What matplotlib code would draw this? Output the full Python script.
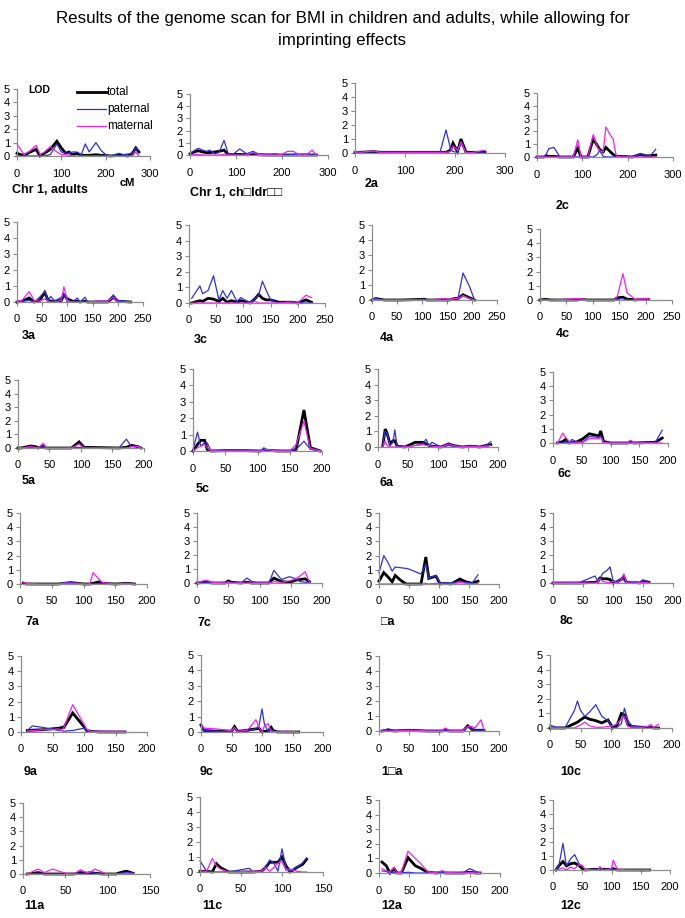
import matplotlib
matplotlib.use('Agg')
import matplotlib.pyplot as plt

plt.rcParams['font.family'] = ['Liberation Sans', 'DejaVu Sans']

# ---- data: cM positions and LOD scores (total / paternal / maternal) ----
chr1a_cm = [0, 8, 16, 30, 43, 52, 62, 75, 90, 100, 110, 117, 125, 135, 145, 154, 163, 178, 190, 200, 210, 230, 240, 250, 260, 268, 275]
chr1a_tot = [0.2, 0.1, 0.05, 0.3, 0.5, 0.0, 0.2, 0.5, 1.1, 0.6, 0.2, 0.3, 0.1, 0.2, 0.05, 0.05, 0.05, 0.1, 0.05, 0.05, 0.0, 0.05, 0.05, 0.0, 0.2, 0.6, 0.3]
chr1a_pat = [0, 0, 0, 0, 0, 0, 0, 0.1, 0.9, 0.3, 0.2, 0.2, 0.3, 0.3, 0.1, 0.9, 0.3, 1.0, 0.4, 0.1, 0.0, 0.2, 0.1, 0.15, 0.2, 0.6, 0.4]
chr1a_mat = [0.9, 0.5, 0.1, 0.4, 0.8, 0.1, 0.3, 0.7, 0.3, 0.1, 0.1, 0.05, 0.05, 0, 0, 0, 0, 0, 0, 0, 0, 0, 0, 0, 0, 0.3, 0.0]

chr1c_cm = [0, 9, 18, 27, 36, 43, 54, 63, 74, 83, 95, 108, 123, 137, 148, 170, 185, 200, 212, 225, 235, 245, 255, 265, 275]
chr1c_tot = [0.1, 0.25, 0.35, 0.25, 0.2, 0.2, 0.25, 0.3, 0.4, 0.05, 0.05, 0.05, 0.02, 0.05, 0.02, 0, 0, 0, 0, 0, 0, 0, 0, 0, 0]
chr1c_pat = [0.1, 0.35, 0.55, 0.4, 0.3, 0.4, 0.1, 0.2, 1.2, 0.1, 0.1, 0.5, 0.1, 0.3, 0.1, 0.05, 0.1, 0.0, 0.0, 0.05, 0.05, 0.0, 0.1, 0.0, 0.0]
chr1c_mat = [0, 0.05, 0.05, 0, 0, 0, 0, 0, 0.05, 0, 0, 0, 0, 0.2, 0.05, 0, 0, 0.05, 0.3, 0.3, 0.05, 0.1, 0.05, 0.4, 0.0]

chr2a_cm = [0, 10, 38, 50, 100, 150, 170, 182, 191, 196, 205, 212, 222, 235, 245, 260]
chr2a_tot = [0.05, 0.05, 0.1, 0.05, 0.05, 0.05, 0.05, 0.05, 0.2, 0.7, 0.1, 1.0, 0.05, 0.05, 0.05, 0.05]
chr2a_pat = [0.05, 0.05, 0.1, 0.05, 0.05, 0.05, 0.05, 1.65, 0.3, 0.1, 0.05, 0.7, 0.05, 0.0, 0.0, 0.0]
chr2a_mat = [0.1, 0.05, 0.15, 0.05, 0.05, 0.05, 0.05, 0.05, 0.1, 0.5, 0.2, 0.8, 0.0, 0.05, 0.1, 0.2]

chr2c_cm = [0, 15, 20, 26, 37, 51, 80, 90, 97, 112, 124, 133, 138, 146, 152, 162, 168, 175, 190, 210, 228, 240, 250, 262]
chr2c_tot = [0, 0, 0.1, 0.05, 0.05, 0, 0, 0.7, 0, 0, 1.4, 0.9, 0.6, 0.4, 0.75, 0.4, 0.2, 0.05, 0.05, 0, 0.2, 0.1, 0.1, 0.15]
chr2c_pat = [0, 0, 0.2, 0.65, 0.75, 0, 0, 0, 0, 0, 0, 0.2, 0.5, 0.05, 0, 0, 0, 0, 0.1, 0, 0.25, 0.1, 0.1, 0.6]
chr2c_mat = [0, 0, 0, 0, 0, 0, 0, 1.35, 0, 0, 1.75, 0.8, 0.5, 0.4, 2.35, 1.7, 1.4, 0.05, 0, 0, 0, 0, 0, 0]

chr3a_cm = [0, 10, 24, 34, 45, 55, 62, 67, 75, 88, 93, 100, 110, 120, 125, 135, 140, 160, 180, 191, 200, 225]
chr3a_tot = [0, 0.05, 0.25, 0, 0.1, 0.6, 0.1, 0.05, 0.05, 0.1, 0.45, 0.2, 0.05, 0.05, 0, 0.05, 0, 0, 0, 0.3, 0.05, 0]
chr3a_pat = [0, 0.05, 0.1, 0, 0.3, 0.65, 0.1, 0.35, 0.05, 0.3, 0.5, 0, 0, 0.25, 0, 0.3, 0, 0.05, 0.05, 0.45, 0.1, 0]
chr3a_mat = [0.05, 0.1, 0.65, 0.1, 0.05, 0.2, 0.05, 0, 0, 0.1, 0.95, 0.1, 0, 0, 0, 0, 0, 0.05, 0.05, 0.3, 0, 0]

chr3c_cm = [5, 20, 25, 35, 45, 55, 62, 70, 78, 88, 95, 102, 112, 122, 128, 135, 142, 150, 165, 180, 190, 200, 215, 225]
chr3c_tot = [0, 0.15, 0.1, 0.3, 0.25, 0.1, 0.3, 0.05, 0.15, 0.05, 0.15, 0.1, 0, 0.3, 0.55, 0.3, 0.2, 0.2, 0.05, 0.05, 0.05, 0, 0.2, 0.05]
chr3c_pat = [0.3, 1.1, 0.6, 0.8, 1.75, 0.2, 0.8, 0.3, 0.8, 0.1, 0.35, 0.2, 0.05, 0.3, 0.5, 1.4, 0.8, 0.2, 0, 0.05, 0.1, 0, 0, 0]
chr3c_mat = [0, 0, 0, 0, 0, 0, 0, 0, 0, 0, 0, 0, 0, 0.1, 0, 0, 0, 0, 0, 0.05, 0, 0, 0.5, 0.35]

chr4a_cm = [0, 8, 15, 25, 60, 105, 110, 145, 155, 165, 172, 182, 195, 205]
chr4a_tot = [0, 0.1, 0.05, 0, 0, 0.05, 0, 0, 0, 0.1, 0.1, 0.35, 0.15, 0]
chr4a_pat = [0, 0.15, 0.05, 0, 0, 0.05, 0, 0, 0, 0.1, 0.1, 1.8, 0.9, 0]
chr4a_mat = [0, 0.05, 0, 0, 0, 0, 0, 0.1, 0.05, 0.1, 0.1, 0.3, 0.1, 0]

chr4c_cm = [0, 10, 20, 70, 78, 90, 140, 146, 157, 165, 172, 180, 195, 205]
chr4c_tot = [0, 0.05, 0, 0, 0.05, 0, 0, 0.15, 0.2, 0.05, 0.05, 0, 0.05, 0.05]
chr4c_pat = [0, 0.05, 0, 0, 0.05, 0, 0, 0.05, 0.1, 0, 0, 0, 0.05, 0.05]
chr4c_mat = [0, 0, 0, 0.1, 0.1, 0, 0, 0.2, 1.85, 0.5, 0.3, 0.05, 0.1, 0.1]

chr5a_cm = [0, 5, 20, 28, 32, 40, 45, 85, 97, 105, 160, 172, 180, 190, 195]
chr5a_tot = [0, 0, 0.15, 0.1, 0, 0.15, 0, 0, 0.45, 0.05, 0, 0.05, 0.2, 0.1, 0]
chr5a_pat = [0, 0, 0.05, 0, 0, 0.1, 0, 0, 0.05, 0, 0, 0.65, 0.1, 0.15, 0]
chr5a_mat = [0.1, 0, 0.1, 0.05, 0, 0.35, 0, 0, 0.3, 0, 0, 0, 0.1, 0.1, 0]

chr5c_cm = [0, 7, 12, 18, 22, 28, 50, 80, 105, 110, 115, 130, 150, 160, 172, 182, 190, 197]
chr5c_tot = [0, 0.4, 0.65, 0.65, 0.1, 0, 0.02, 0.02, 0, 0.05, 0.05, 0, 0, 0.1, 2.5, 0.2, 0.1, 0]
chr5c_pat = [0.1, 1.15, 0.3, 0.5, 0.5, 0, 0.05, 0.05, 0, 0.2, 0, 0.05, 0, 0.1, 0.6, 0.1, 0.05, 0]
chr5c_mat = [0, 0.2, 0.3, 0.4, 0.2, 0, 0, 0, 0, 0.05, 0.1, 0, 0, 0.4, 1.8, 0.15, 0.1, 0]

chr6a_cm = [8, 12, 15, 20, 25, 28, 32, 45, 62, 75, 80, 85, 90, 105, 118, 125, 140, 155, 170, 180, 188]
chr6a_tot = [0.1, 1.15, 0.9, 0.2, 0.4, 0.4, 0.05, 0, 0.3, 0.3, 0.2, 0.1, 0.05, 0, 0.2, 0.1, 0, 0.05, 0, 0.1, 0.15]
chr6a_pat = [0.2, 1.0, 0.9, 0.1, 0.3, 1.1, 0, 0, 0.1, 0.2, 0.5, 0.1, 0.3, 0, 0.1, 0.05, 0, 0.05, 0, 0.1, 0.35]
chr6a_mat = [0, 0.4, 0.1, 0, 0, 0, 0, 0, 0.1, 0.15, 0.1, 0.1, 0.05, 0, 0.2, 0.1, 0, 0.05, 0, 0.05, 0.1]

chr6c_cm = [8, 17, 22, 28, 33, 40, 52, 63, 80, 83, 88, 100, 130, 135, 140, 178, 190]
chr6c_tot = [0, 0.1, 0.25, 0, 0.05, 0.05, 0.3, 0.65, 0.5, 0.85, 0.1, 0, 0, 0.1, 0, 0.05, 0.35]
chr6c_pat = [0, 0, 0.05, 0.05, 0.25, 0.1, 0.1, 0.45, 0.4, 0.5, 0.05, 0, 0, 0.05, 0, 0.05, 0.9]
chr6c_mat = [0, 0.7, 0.4, 0.1, 0.05, 0, 0.05, 0.3, 0.3, 0.4, 0.05, 0, 0, 0.2, 0, 0, 0]

chr7a_cm = [5, 10, 30, 60, 70, 80, 90, 100, 110, 115, 125, 130, 150, 170, 180]
chr7a_tot = [0.05, 0, 0, 0, 0.05, 0.1, 0.05, 0, 0, 0.05, 0.15, 0.05, 0, 0.05, 0]
chr7a_pat = [0.05, 0, 0, 0, 0.1, 0.1, 0.05, 0, 0, 0, 0.05, 0, 0, 0.05, 0]
chr7a_mat = [0.15, 0.05, 0, 0, 0.05, 0.05, 0.05, 0, 0, 0.8, 0.3, 0.1, 0, 0.05, 0]

chr7c_cm = [0, 15, 25, 45, 50, 55, 70, 80, 88, 100, 115, 123, 135, 148, 158, 165, 173, 180]
chr7c_tot = [0, 0.05, 0, 0, 0.15, 0.05, 0, 0.05, 0, 0, 0, 0.35, 0.1, 0.05, 0.2, 0.25, 0.3, 0.1]
chr7c_pat = [0, 0, 0, 0, 0.1, 0, 0, 0.35, 0.1, 0, 0, 0.9, 0.25, 0.45, 0.3, 0.1, 0.05, 0]
chr7c_mat = [0.05, 0.2, 0.05, 0, 0.05, 0, 0, 0, 0, 0, 0, 0.1, 0.05, 0.15, 0.3, 0.5, 0.8, 0.05]

chr8a_cm = [0, 8, 15, 22, 27, 35, 45, 50, 70, 78, 83, 95, 102, 110, 120, 135, 145, 155, 165]
chr8a_tot = [0.2, 0.8, 0.5, 0.15, 0.6, 0.3, 0, 0, 0, 1.9, 0.4, 0.55, 0, 0.05, 0, 0.35, 0.15, 0.05, 0.2]
chr8a_pat = [0.8, 2.0, 1.5, 0.9, 1.2, 1.15, 1.1, 1.05, 0.7, 1.4, 0.4, 0.6, 0.05, 0.1, 0.05, 0.2, 0.1, 0.05, 0.65]
chr8a_mat = [0, 0, 0, 0, 0, 0, 0, 0, 0, 0.05, 0, 0.05, 0, 0, 0, 0.1, 0.05, 0, 0.05]

chr8c_cm = [0, 20, 45, 70, 75, 78, 83, 90, 95, 100, 105, 112, 118, 122, 135, 145, 150, 160]
chr8c_tot = [0, 0, 0, 0.05, 0.1, 0.35, 0.3, 0.3, 0.25, 0, 0.05, 0.2, 0.45, 0.05, 0.05, 0, 0.15, 0.05]
chr8c_pat = [0, 0, 0.05, 0.5, 0.1, 0.3, 0.7, 0.9, 1.15, 0.2, 0.1, 0.3, 0.2, 0, 0.05, 0, 0.2, 0.05]
chr8c_mat = [0, 0, 0, 0, 0.05, 0.3, 0.1, 0.05, 0.05, 0.1, 0.05, 0.1, 0.65, 0.05, 0.1, 0, 0.05, 0]

chr9a_cm = [10, 18, 35, 60, 65, 68, 82, 100, 104, 110, 125, 150, 165]
chr9a_tot = [0.1, 0.12, 0.15, 0.25, 0.3, 0.3, 1.25, 0.35, 0.1, 0.05, 0, 0, 0]
chr9a_pat = [0.1, 0.4, 0.3, 0.1, 0.1, 0.05, 0.1, 0.25, 0.1, 0, 0.05, 0, 0]
chr9a_mat = [0.05, 0.1, 0.15, 0.2, 0.1, 0.3, 1.8, 0.5, 0.2, 0.05, 0.05, 0.05, 0.05]

chr9c_cm = [0, 5, 25, 50, 55, 60, 75, 80, 90, 95, 100, 104, 110, 115, 118, 125, 140, 160]
chr9c_tot = [0.45, 0.1, 0.05, 0.05, 0.35, 0.05, 0.1, 0.15, 0.2, 0.25, 0, 0.05, 0.05, 0.3, 0.1, 0, 0, 0]
chr9c_pat = [0.4, 0.1, 0.05, 0.05, 0.2, 0, 0, 0.1, 0.2, 0.4, 1.5, 0.5, 0.05, 0.2, 0, 0.05, 0, 0]
chr9c_mat = [0.55, 0.25, 0.2, 0.1, 0.3, 0.05, 0.1, 0.3, 0.8, 0.3, 0, 0.4, 0.55, 0, 0.05, 0, 0.05, 0]

chr10a_cm = [5, 15, 25, 50, 80, 105, 110, 118, 140, 148, 155, 160, 170, 175]
chr10a_tot = [0, 0.05, 0, 0.05, 0, 0, 0.05, 0, 0, 0.35, 0.1, 0.05, 0.05, 0.05]
chr10a_pat = [0, 0.15, 0.05, 0.05, 0, 0, 0.05, 0, 0, 0.3, 0.1, 0.05, 0.05, 0]
chr10a_mat = [0, 0, 0, 0.05, 0, 0, 0.2, 0.05, 0.05, 0.3, 0.3, 0.2, 0.75, 0.05]

chr10c_cm = [0, 10, 25, 40, 45, 50, 57, 65, 75, 85, 95, 103, 110, 117, 122, 128, 135, 150, 160, 165, 170, 178]
chr10c_tot = [0, 0, 0, 0.3, 0.4, 0.55, 0.75, 0.6, 0.5, 0.35, 0.55, 0, 0.2, 1.0, 0.9, 0.2, 0.1, 0.05, 0.05, 0.05, 0, 0]
chr10c_pat = [0.2, 0.05, 0.05, 1.2, 1.85, 1.2, 0.8, 1.1, 1.6, 0.8, 0.5, 0, 0.05, 0.3, 1.35, 0.5, 0.1, 0.05, 0.1, 0, 0, 0]
chr10c_mat = [0.05, 0, 0, 0, 0.1, 0.2, 0.4, 0.15, 0.05, 0.05, 0.1, 0.15, 0.3, 0.6, 0.8, 0.1, 0.05, 0.05, 0.1, 0.25, 0.05, 0.25]

chr11a_cm = [5, 18, 25, 35, 45, 55, 60, 68, 75, 80, 85, 95, 100, 110, 115, 122, 130]
chr11a_tot = [0, 0.1, 0, 0, 0, 0, 0, 0.1, 0.05, 0.1, 0.05, 0, 0, 0, 0.1, 0.2, 0.05]
chr11a_pat = [0, 0.05, 0, 0, 0, 0, 0, 0.05, 0.05, 0.15, 0.05, 0, 0, 0, 0.05, 0.1, 0.05]
chr11a_mat = [0, 0.35, 0.1, 0.35, 0.15, 0, 0, 0.3, 0.1, 0.15, 0.35, 0.1, 0, 0, 0, 0.05, 0.05]

chr11c_cm = [0, 8, 15, 20, 25, 35, 40, 60, 65, 75, 80, 85, 90, 95, 100, 105, 110, 118, 125, 130]
chr11c_tot = [0.05, 0.05, 0, 0.55, 0.3, 0, 0, 0, 0, 0.05, 0.3, 0.65, 0.65, 0.65, 1.0, 0.4, 0, 0.3, 0.5, 0.85]
chr11c_pat = [0.75, 0.05, 0, 0, 0, 0, 0.05, 0.25, 0, 0.05, 0.3, 0.8, 0.6, 0.05, 1.55, 0.3, 0.05, 0.3, 0.6, 0.95]
chr11c_mat = [0.05, 0.05, 0.9, 0.4, 0.2, 0, 0, 0.05, 0.05, 0.05, 0.3, 0.05, 0.3, 0.6, 0.7, 0.1, 0.2, 0.05, 0, 0]

chr12a_cm = [5, 12, 18, 25, 30, 37, 48, 60, 70, 78, 82, 95, 105, 110, 130, 140, 150, 160, 167]
chr12a_tot = [0.75, 0.5, 0, 0.3, 0, 0, 1.05, 0.5, 0.3, 0.1, 0.05, 0, 0.05, 0, 0, 0, 0.05, 0, 0]
chr12a_pat = [0.15, 0.1, 0, 0.05, 0, 0, 0.05, 0, 0, 0, 0.1, 0, 0.05, 0, 0, 0.05, 0.3, 0.1, 0]
chr12a_mat = [0.3, 0.15, 0.05, 0.4, 0, 0.05, 1.5, 1.0, 0.6, 0.2, 0.05, 0.05, 0.15, 0.05, 0, 0, 0.05, 0, 0]

chr12c_cm = [5, 10, 17, 23, 30, 37, 45, 50, 55, 70, 78, 80, 85, 100, 103, 110, 130, 150, 165]
chr12c_tot = [0, 0.3, 0.6, 0.3, 0.45, 0.5, 0.3, 0.1, 0, 0.05, 0.05, 0.05, 0.05, 0.05, 0.1, 0, 0, 0, 0]
chr12c_pat = [0, 0.3, 1.9, 0.3, 0.8, 1.1, 0.4, 0.3, 0, 0.05, 0.05, 0.05, 0, 0.05, 0.05, 0, 0, 0, 0]
chr12c_mat = [0, 0.05, 0.15, 0, 0.2, 0.1, 0.4, 0.3, 0.05, 0, 0, 0.25, 0, 0.1, 0.7, 0.05, 0, 0, 0]

panel_labels = ['Chr 1, adults', 'Chr 1, ch\u25a1ldr\u25a1\u25a1', '2a', '2c',
                '3a', '3c', '4a', '4c', '5a', '5c', '6a', '6c',
                '7a', '7c', '\u25a1a', '8c', '9a', '9c', '1\u25a1a', '10c',
                '11a', '11c', '12a', '12c']
x_max = [300, 300, 300, 300, 250, 250, 250, 250, 200, 200, 200, 200,
         200, 200, 200, 200, 200, 200, 200, 200, 150, 150, 200, 200]
x_step = [100, 100, 100, 100, 50, 50, 50, 50, 50, 50, 50, 50,
          50, 50, 50, 50, 50, 50, 50, 50, 50, 50, 50, 50]

series = [
    (chr1a_cm, chr1a_tot, chr1a_pat, chr1a_mat),
    (chr1c_cm, chr1c_tot, chr1c_pat, chr1c_mat),
    (chr2a_cm, chr2a_tot, chr2a_pat, chr2a_mat),
    (chr2c_cm, chr2c_tot, chr2c_pat, chr2c_mat),
    (chr3a_cm, chr3a_tot, chr3a_pat, chr3a_mat),
    (chr3c_cm, chr3c_tot, chr3c_pat, chr3c_mat),
    (chr4a_cm, chr4a_tot, chr4a_pat, chr4a_mat),
    (chr4c_cm, chr4c_tot, chr4c_pat, chr4c_mat),
    (chr5a_cm, chr5a_tot, chr5a_pat, chr5a_mat),
    (chr5c_cm, chr5c_tot, chr5c_pat, chr5c_mat),
    (chr6a_cm, chr6a_tot, chr6a_pat, chr6a_mat),
    (chr6c_cm, chr6c_tot, chr6c_pat, chr6c_mat),
    (chr7a_cm, chr7a_tot, chr7a_pat, chr7a_mat),
    (chr7c_cm, chr7c_tot, chr7c_pat, chr7c_mat),
    (chr8a_cm, chr8a_tot, chr8a_pat, chr8a_mat),
    (chr8c_cm, chr8c_tot, chr8c_pat, chr8c_mat),
    (chr9a_cm, chr9a_tot, chr9a_pat, chr9a_mat),
    (chr9c_cm, chr9c_tot, chr9c_pat, chr9c_mat),
    (chr10a_cm, chr10a_tot, chr10a_pat, chr10a_mat),
    (chr10c_cm, chr10c_tot, chr10c_pat, chr10c_mat),
    (chr11a_cm, chr11a_tot, chr11a_pat, chr11a_mat),
    (chr11c_cm, chr11c_tot, chr11c_pat, chr11c_mat),
    (chr12a_cm, chr12a_tot, chr12a_pat, chr12a_mat),
    (chr12c_cm, chr12c_tot, chr12c_pat, chr12c_mat),
]

# ---- layout in pixels: (y-axis x, x-axis right end, top of y axis, bottom of y axis) ----
W, H = 685, 918
boxes = [
    (17, 150, 89, 156), (190, 328, 94, 155), (355, 505, 83, 153), (537, 673, 93, 157),
    (17, 143, 222, 302), (189, 325, 225, 303), (372, 497, 225, 300), (540, 672, 229, 300),
    (18, 144, 380, 448), (193, 322, 369, 451), (378, 498, 369, 447), (553, 668, 372, 443),
    (20, 147, 513, 584), (197, 322, 513, 583), (379, 499, 513, 584), (553, 673, 513, 583),
    (21, 147, 656, 732), (201, 323, 655, 732), (379, 499, 656, 731), (550, 672, 655, 728),
    (23, 150, 803, 874), (200, 323, 797, 872), (379, 500, 800, 873), (553, 670, 800, 870),
]
label_xy = [
    (12, 190), (190, 193), (365, 184), (556, 206),
    (22, 336), (194, 340), (380, 338), (556, 334),
    (22, 481), (196, 489), (380, 483), (558, 474),
    (26, 622), (198, 623), (381, 622), (560, 621),
    (24, 772), (200, 772), (381, 772), (560, 772),
    (24, 906), (202, 906), (381, 906), (560, 906),
]

c_tot = 'black'
c_pat = '#3030d8'
c_mat = '#f020f0'
axis_gray = '#8c8c8c'

fig = plt.figure(figsize=(W / 100, H / 100), dpi=100)
fig.text(0.5, 1 - 18 / H, 'Results of the genome scan for BMI in children and adults, while allowing for',
         ha='center', va='center', fontsize=12.2)
fig.text(0.5, 1 - 40 / H, 'imprinting effects', ha='center', va='center', fontsize=12.2)

for i, (x0, x1, y0, y1) in enumerate(boxes):
    ax = fig.add_axes([x0 / W, 1 - y1 / H, (x1 - x0) / W, (y1 - y0) / H])
    cm, tot, pat, mat = series[i]
    ax.plot(cm, tot, color=c_tot, lw=2.0, solid_joinstyle='miter')
    ax.plot(cm, pat, color=c_pat, lw=0.9)
    ax.plot(cm, mat, color=c_mat, lw=0.9)
    ax.set_xlim(0, x_max[i])
    ax.set_ylim(0, 5)
    ax.set_xticks(range(0, x_max[i] + 1, x_step[i]))
    ax.set_yticks(range(0, 6))
    for s in ['top', 'right']:
        ax.spines[s].set_visible(False)
    for s in ['left', 'bottom']:
        ax.spines[s].set_color(axis_gray)
        ax.spines[s].set_linewidth(0.9)
    ax.tick_params(axis='x', direction='out', length=3, width=0.8, color=axis_gray,
                   labelsize=8, pad=6)
    ax.tick_params(axis='y', direction='out', length=3, width=0.8, color=axis_gray,
                   labelsize=8, pad=2)
    ax.patch.set_alpha(0)
    for line in ax.lines:
        line.set_clip_on(False)

    lx, ly = label_xy[i]
    fig.text(lx / W, 1 - ly / H, panel_labels[i], ha='left', va='center',
             fontsize=9, fontweight='bold')

# legend + extra labels of the first panel
fig.text(28 / W, 1 - 90 / H, 'LOD', ha='left', va='center', fontsize=7.5, fontweight='bold')
fig.text(120 / W, 1 - 183 / H, 'cM', ha='left', va='center', fontsize=8, fontweight='bold')
leg_rows = [('total', c_tot, 2.0, 92), ('paternal', c_pat, 0.9, 109), ('maternal', c_mat, 0.9, 126)]
for name, col, lw, yy in leg_rows:
    fig.add_artist(plt.Line2D([77 / W, 106 / W], [1 - yy / H, 1 - yy / H], color=col, lw=lw))
    fig.text(107 / W, 1 - yy / H, name, ha='left', va='center', fontsize=8.5)

plt.savefig('out.png', dpi=100)
